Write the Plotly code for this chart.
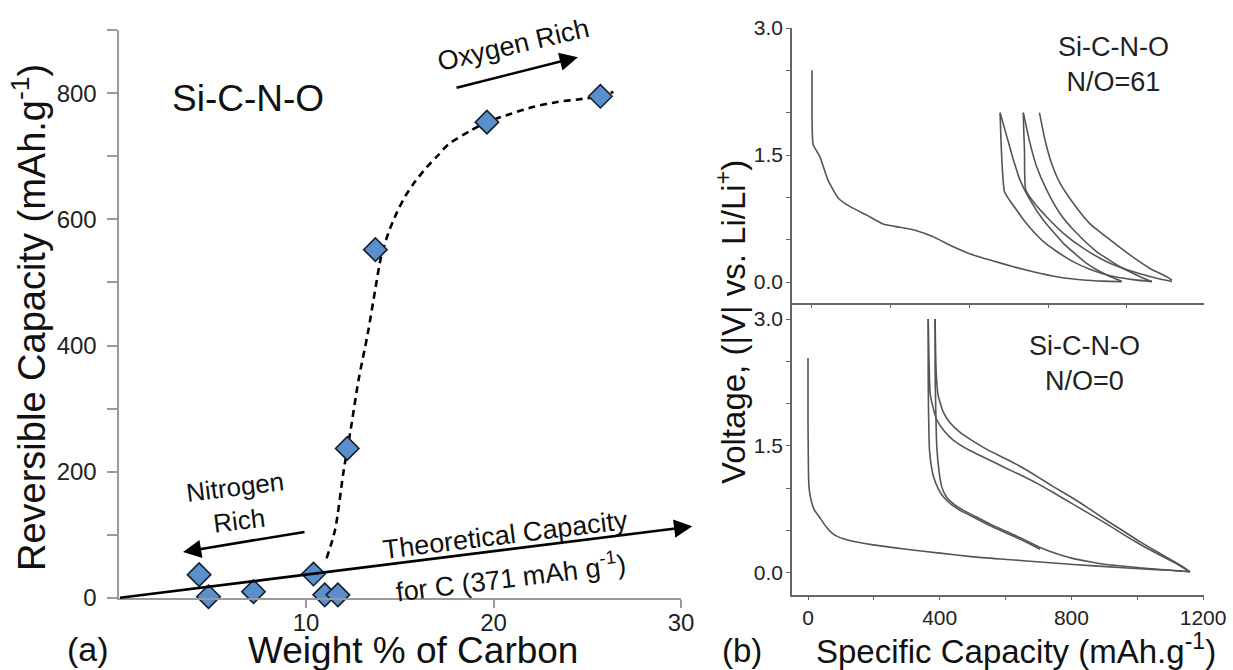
import plotly.graph_objects as go

W, H = 1233, 670
def px(x):
    return x / W
def py(y):
    return 1 - y / H

FONT = "Liberation Sans, Arial, sans-serif"

# ---------------- (a) data ----------------
carbon_wt = [4.3, 4.8, 7.2, 10.4, 11.0, 11.7, 12.2, 13.7, 19.65, 25.7]
capacity = [37, 2, 10, 38, 5, 5, 237, 552, 754, 795]

trend_wt = [11.1, 11.55, 12.0, 12.4, 12.8, 13.3, 13.7, 14.0, 14.4, 14.85, 15.3, 15.8,
            16.45, 17.0, 17.6, 18.75, 19.65, 20.9, 22.1, 23.4, 24.5, 25.7, 26.4]
trend_cap = [63, 108, 200, 270, 345, 420, 490, 540, 579, 611, 637, 659,
             683, 700, 719, 740, 754, 767, 778, 786, 790, 795, 802]

theory_wt = [0, 30.6]
theory_cap = [0, 113.5]

nitrogen_arrow_wt = [10.0, 3.44]
nitrogen_arrow_cap = [105, 73]
oxygen_arrow_wt = [17.95, 24.5]
oxygen_arrow_cap = [808, 857]

x_ticks_a = [10, 20, 30]
y_ticks_a = [0, 100, 200, 300, 400, 500, 600, 700, 800, 900]
y_labels_a = ["0", "", "200", "", "400", "", "600", "", "800", ""]

# ---------------- (b) data, top: N/O = 61 ----------------
t_d1_cap = [0, 0, 1, 3, 20, 41, 67, 97, 139, 181, 224, 266, 308, 359, 410, 461, 512, 562, 622, 689, 740, 787]
t_d1_v = [2.5, 2.0, 1.75, 1.62, 1.48, 1.2, 0.99, 0.89, 0.79, 0.685, 0.646, 0.606, 0.535, 0.417, 0.319,
          0.248, 0.181, 0.122, 0.063, 0.024, 0.01, 0.004]
t_c1_cap = [787, 749, 698, 639, 588, 554, 529, 512, 495, 478]
t_c1_v = [0.01, 0.083, 0.22, 0.457, 0.73, 0.97, 1.2, 1.44, 1.72, 2.0]
t_d2_cap = [478, 480, 483, 489, 503, 520, 540, 562, 590, 622, 660, 706, 760, 820, 864]
t_d2_v = [2.0, 1.7, 1.4, 1.07, 0.96, 0.85, 0.72, 0.6, 0.47, 0.36, 0.25, 0.15, 0.07, 0.025, 0.005]
t_c2_cap = [864, 834, 783, 723, 673, 630, 596, 571, 554, 537]
t_c2_v = [0.005, 0.063, 0.18, 0.36, 0.575, 0.81, 1.09, 1.36, 1.64, 2.0]
t_d3_cap = [537, 538, 540, 543, 562, 596, 639, 689, 749, 817, 876, 915]
t_d3_v = [2.0, 1.8, 1.56, 1.09, 0.95, 0.77, 0.575, 0.40, 0.24, 0.12, 0.044, 0.005]
t_c3_cap = [915, 901, 859, 808, 757, 706, 664, 630, 609, 592, 578]
t_c3_v = [0.02, 0.063, 0.16, 0.32, 0.50, 0.69, 0.93, 1.17, 1.40, 1.68, 2.0]

# ---------------- (b) data, bottom: N/O = 0 ----------------
b_d1_cap = [0, 0, 1, 2, 4, 10, 19, 34, 55, 80, 126, 198, 299, 401, 502, 603, 705, 806, 907, 1008, 1110, 1160]
b_d1_v = [2.54, 1.8, 1.33, 1.1, 0.98, 0.85, 0.745, 0.665, 0.547, 0.45, 0.383, 0.332, 0.28, 0.235, 0.19,
          0.16, 0.13, 0.1, 0.075, 0.05, 0.03, 0.015]
b_c1_cap = [1160, 1140, 1110, 1060, 1008, 960, 907, 850, 806, 745, 700, 644, 600, 543, 500, 462, 430, 411, 395, 389, 386]
b_c1_v = [0.015, 0.07, 0.14, 0.25, 0.37, 0.49, 0.62, 0.77, 0.88, 1.02, 1.13, 1.26, 1.35, 1.46, 1.56, 1.66,
          1.78, 1.9, 2.1, 2.4, 3.0]
b_d2_cap = [386, 386, 388, 391, 398, 406, 420, 441, 472, 502, 552, 603, 654, 705, 760, 806, 860, 907, 960,
            1008, 1060, 1110, 1140, 1160]
b_d2_v = [3.0, 2.4, 1.93, 1.5, 1.2, 1.02, 0.9, 0.82, 0.74, 0.68, 0.58, 0.49, 0.4, 0.3, 0.22, 0.17, 0.13,
          0.1, 0.08, 0.06, 0.045, 0.03, 0.02, 0.015]
b_c2_cap = [1160, 1140, 1110, 1060, 1008, 960, 907, 850, 806, 745, 700, 644, 600, 543, 490, 441, 415, 391,
            380, 371, 367, 365]
b_c2_v = [0.015, 0.06, 0.13, 0.23, 0.34, 0.45, 0.58, 0.71, 0.81, 0.95, 1.05, 1.16, 1.24, 1.35, 1.45, 1.57,
          1.67, 1.81, 1.95, 2.12, 2.6, 3.0]
b_d3_cap = [365, 365, 366, 369, 375, 381, 395, 411, 435, 462, 502, 552, 603, 654, 705]
b_d3_v = [3.0, 2.4, 1.93, 1.45, 1.25, 1.14, 1.0, 0.9, 0.81, 0.74, 0.66, 0.56, 0.47, 0.38, 0.28]

v_ticks = [0, 0.5, 1.0, 1.5, 2.0, 2.5, 3.0]
v_labels = ["0.0", "", "", "1.5", "", "", "3.0"]
cap_ticks_top = [0, 200, 400, 600, 800]
cap_ticks = [0, 200, 400, 600, 800, 1000, 1200]
cap_labels = ["0", "", "400", "", "800", "", "1200"]

fig = go.Figure()

# ---- panel (a) ----
fig.add_trace(go.Scatter(x=trend_wt, y=trend_cap, mode="lines",
                         line=dict(color="black", width=2.6, dash="7px,5px", shape="spline", smoothing=0.8),
                         xaxis="x", yaxis="y", showlegend=False, hoverinfo="skip"))
fig.add_trace(go.Scatter(x=carbon_wt, y=capacity, mode="markers",
                         marker=dict(symbol="diamond", size=18, color="#5b8fcb",
                                     line=dict(color="#14202e", width=1.6)),
                         xaxis="x", yaxis="y", showlegend=False, cliponaxis=False))

LINE_GREY = "#555555"
def curve(xs, ys, xa, ya):
    fig.add_trace(go.Scatter(x=xs, y=ys, mode="lines",
                             line=dict(color=LINE_GREY, width=1.6, shape="spline", smoothing=0.5),
                             xaxis=xa, yaxis=ya, showlegend=False, hoverinfo="skip"))

for xs, ys in [(t_d1_cap, t_d1_v), (t_c1_cap, t_c1_v), (t_d2_cap, t_d2_v),
               (t_c2_cap, t_c2_v), (t_d3_cap, t_d3_v), (t_c3_cap, t_c3_v)]:
    curve(xs, ys, "x2", "y2")
for xs, ys in [(b_d1_cap, b_d1_v), (b_c1_cap, b_c1_v), (b_d2_cap, b_d2_v),
               (b_c2_cap, b_c2_v), (b_d3_cap, b_d3_v)]:
    curve(xs, ys, "x3", "y3")

TXT = "#111111"
ann = []
# arrows on panel (a)
for (xa, ya) in [(theory_wt, theory_cap), (nitrogen_arrow_wt, nitrogen_arrow_cap),
                 (oxygen_arrow_wt, oxygen_arrow_cap)]:
    ann.append(dict(x=xa[1], y=ya[1], ax=xa[0], ay=ya[0],
                    xref="x", yref="y", axref="x", ayref="y", text="", showarrow=True,
                    arrowhead=2, arrowsize=1.4, arrowwidth=2.6, arrowcolor="black"))

def label(text, x, y, size, angle=0, color=TXT):
    ann.append(dict(text=text, x=px(x), y=py(y), xref="paper", yref="paper",
                    showarrow=False, textangle=angle, xanchor="center", yanchor="middle",
                    font=dict(family=FONT, size=size, color=color)))

label("Si-C-N-O", 248, 98, 37)
label("Theoretical Capacity", 505, 535, 27, -7)
label("for C (371 mAh g<sup>-1</sup>)", 511, 576, 27, -7)
label("Nitrogen<br>Rich", 237, 504, 26, -7)
label("Oxygen Rich", 513, 45, 27, -13)
label("Reversible Capacity (mAh.g<sup>-1</sup>)", 29, 318, 38, -90)
label("Weight % of Carbon", 413, 650, 37)
label("(a)", 88, 649, 34)

label("Si-C-N-O<br>N/O=61", 1113, 65, 27, color="#222222")
label("Si-C-N-O<br>N/O=0", 1084, 364, 27, color="#222222")
label("Voltage, (|V| vs. Li/Li<sup>+</sup>)", 731, 322, 33, -90)
label("Specific Capacity (mAh.g<sup>-1</sup>)", 1016, 649, 33)
label("(b)", 742, 650, 33)

A_GREY = "#9a9a9a"
B_GREY = "#666666"

common = dict(showgrid=False, zeroline=False, automargin=False)

fig.update_layout(
    template="none",
    width=W, height=H,
    margin=dict(l=0, r=0, t=0, b=0, pad=0),
    paper_bgcolor="white", plot_bgcolor="white",
    font=dict(family=FONT, color=TXT),
    annotations=ann,
    xaxis=dict(domain=[px(118.5), px(681)], range=[0, 30], anchor="y",
               showline=True, linecolor=A_GREY, linewidth=2, **common,
               ticks="outside", ticklen=8, tickwidth=2, tickcolor=A_GREY,
               tickvals=x_ticks_a, ticklabelstandoff=-6,
               tickfont=dict(size=24, color="#222222")),
    yaxis=dict(domain=[py(598), py(30)], range=[0, 900], anchor="x",
               showline=True, linecolor=A_GREY, linewidth=2, **common,
               ticks="outside", ticklen=10, tickwidth=2, tickcolor=A_GREY,
               tickvals=y_ticks_a, ticktext=y_labels_a, ticklabelstandoff=5,
               tickfont=dict(size=24, color="#222222")),
    xaxis2=dict(domain=[px(792), px(1204)], range=[-50.8, 996.2], anchor="y2",
                showline=True, linecolor=B_GREY, linewidth=1.5, **common,
                ticks="outside", ticklen=3, tickwidth=1, tickcolor=B_GREY,
                tickvals=cap_ticks_top, showticklabels=False),
    yaxis2=dict(domain=[py(303), py(28)], range=[-0.248, 3.0], anchor="x2",
                showline=True, linecolor=B_GREY, linewidth=1.5, **common,
                ticks="outside", ticklen=4, tickwidth=1, tickcolor=B_GREY,
                tickvals=v_ticks, ticktext=v_labels, ticklabelstandoff=-1,
                tickfont=dict(size=21, color="#222222")),
    xaxis3=dict(domain=[px(792), px(1204)], range=[-48.6, 1202.7], anchor="y3",
                showline=True, linecolor=B_GREY, linewidth=1.5, **common,
                ticks="outside", ticklen=3, tickwidth=1, tickcolor=B_GREY,
                tickvals=cap_ticks, ticktext=cap_labels,
                tickfont=dict(size=21, color="#222222")),
    yaxis3=dict(domain=[py(595), py(303)], range=[-0.26, 3.189], anchor="x3",
                showline=True, linecolor=B_GREY, linewidth=1.5, **common,
                ticks="outside", ticklen=4, tickwidth=1, tickcolor=B_GREY,
                tickvals=v_ticks, ticktext=v_labels, ticklabelstandoff=-1,
                tickfont=dict(size=21, color="#222222")),
)

fig.write_html("out.html", config={"displayModeBar": False},
               post_script="document.body.style.margin='0px';")
